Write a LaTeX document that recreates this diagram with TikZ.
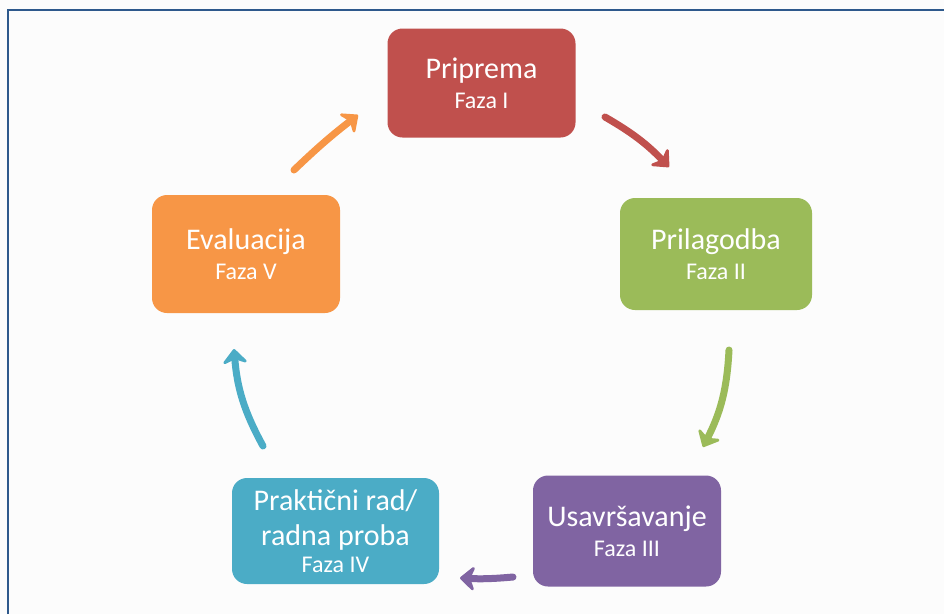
\documentclass[tikz,border=0pt]{standalone}
\usepackage{fontspec}
\setmainfont{Carlito}
\usetikzlibrary{arrows.meta}
\definecolor{cred}{HTML}{C0504D}
\definecolor{cgreen}{HTML}{9BBB59}
\definecolor{cpurple}{HTML}{8064A2}
\definecolor{cteal}{HTML}{4BACC6}
\definecolor{corange}{HTML}{F79646}
\definecolor{frameblue}{HTML}{2E598C}
\newcommand\fazafont{\fontsize{24}{28}\selectfont}
\tikzset{
  phase/.style={rounded corners=15pt, inner sep=0pt, align=center, text=white,
    font=\fontsize{30}{34}\selectfont},
  arr/.style={line width=7pt, line cap=round, -{Stealth[length=17pt,width=30pt,inset=6pt,round]}},
}
\begin{document}
\begin{tikzpicture}[x=1pt,y=-1pt]
\useasboundingbox (0,0) rectangle (944,614);
\fill[white!99!black] (0,0) rectangle (944,614);
\draw[frameblue, line width=2.5pt] (8,614) -- (8,10) -- (944,10);

\node[phase, fill=cred, minimum width=188pt, minimum height=109pt] (p1) at (481.5,83)
  {Priprema\\[-4pt]{\fazafont Faza I}};
\node[phase, fill=cgreen, minimum width=192pt, minimum height=112pt] (p2) at (716,254)
  {Prilagodba\\[-4pt]{\fazafont Faza II}};
\node[phase, fill=cpurple, minimum width=188pt, minimum height=111pt] (p3) at (627,531)
  {Usavršavanje\\[-4pt]{\fazafont Faza III}};
\node[phase, fill=cteal, minimum width=207pt, minimum height=106pt] (p4) at (335.5,531)
  {Praktični rad/\\[1pt]radna proba\\[-7pt]{\fazafont Faza IV}};
\node[phase, fill=corange, minimum width=188pt, minimum height=118pt] (p5) at (246,254)
  {Evaluacija\\[-4pt]{\fazafont Faza V}};

\coordinate (r1) at (605,117); \coordinate (r2) at (669,167);
\coordinate (g1) at (729,350); \coordinate (g2) at (703,447);
\coordinate (v1) at (513,577); \coordinate (v2) at (460,578);
\coordinate (t1) at (263,446); \coordinate (t2) at (234,349);
\coordinate (o1) at (294,170); \coordinate (o2) at (358,115);

\draw[arr, cred] (r1) to[bend left=8] (r2);
\draw[arr, cgreen] (g1) to[bend left=12] (g2);
\draw[arr, cpurple] (v1) to[bend left=4] (v2);
\draw[arr, cteal] (t1) to[bend left=12] (t2);
\draw[arr, corange] (o1) to[bend left=3] (o2);
\end{tikzpicture}
\end{document}
